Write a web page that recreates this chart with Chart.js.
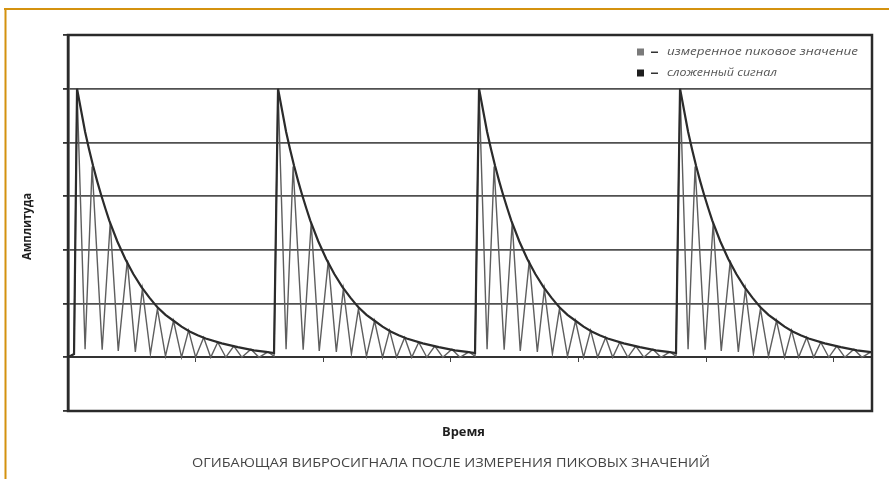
<!DOCTYPE html>
<html>
<head>
<meta charset="utf-8">
<script src="https://cdn.jsdelivr.net/npm/chart.js@4.4.1/dist/chart.umd.min.js"></script>
<style>
    body { margin: 0; background: #fff; }
    #wrap { width: 889px; height: 479px; }
</style>
</head>
<body>
<div id="wrap"><canvas id="grafico" width="889" height="479"></canvas></div>
<script>
// начало каждого цикла (момент пика), усл. ед. времени
const cycleStarts = [9, 209, 409, 609];

// участок до первого удара
const leadTime = [0, 6];
const leadValue = [0, 0.06];

// огибающая (сложенный сигнал) одного цикла, время от пика
const envTime = [0, 4, 8, 12, 16, 20, 24, 28, 32, 40, 48, 56, 64, 72, 80, 88, 96, 104, 112, 120, 128, 144, 160, 176, 188, 196];
const envValue = [5.0, 4.6, 4.2, 3.87, 3.56, 3.28, 3.02, 2.78, 2.55, 2.16, 1.83, 1.55, 1.31, 1.11, 0.93, 0.79, 0.68, 0.57, 0.48, 0.41, 0.35, 0.26, 0.19, 0.13, 0.1, 0.08];

// измеренные пиковые значения одного цикла (пики и провалы)
const peakTime = [0, 8, 15, 25, 33, 41, 50, 58, 65, 73, 80, 88, 96, 104, 111, 118, 126, 133, 140, 148, 156, 164, 173, 181, 190, 196];
const peakValue = [5.0, 0.15, 3.55, 0.14, 2.5, 0.12, 1.8, 0.1, 1.27, 0.06, 0.9, 0.02, 0.68, 0.0, 0.5, 0.0, 0.37, 0.0, 0.28, 0.0, 0.21, 0.0, 0.15, 0.0, 0.1, 0.02];

const legendLabels = ["измеренное пиковое значение", "сложенный сигнал"];
const yTitle = "Амплитуда";
const xTitle = "Время";
const caption = "ОГИБАЮЩАЯ ВИБРОСИГНАЛА ПОСЛЕ ИЗМЕРЕНИЯ ПИКОВЫХ ЗНАЧЕНИЙ";

function buildSeries(times, values) {
    let pts = [];
    for (let i = 0; i < leadTime.length; i++) pts.push({ x: leadTime[i], y: leadValue[i] });
    cycleStarts.forEach(start => {
        for (let i = 0; i < times.length; i++) pts.push({ x: start + times[i], y: values[i] });
    });
    return pts;
}

// текст, подогнанный по ширине
function fitText(ctx, text, x, y, width, font, color) {
    ctx.save();
    ctx.font = font;
    ctx.fillStyle = color;
    ctx.textBaseline = "middle";
    ctx.textAlign = "left";
    let w = ctx.measureText(text).width;
    ctx.translate(x, y);
    ctx.scale(width / w, 1);
    ctx.fillText(text, 0, 0);
    ctx.restore();
}

const decor = {
    id: "decor",
    afterDraw(chart) {
        const ctx = chart.ctx;
        const a = chart.chartArea;

        // рамка графика
        ctx.save();
        ctx.strokeStyle = "#2a2a2a";
        ctx.lineWidth = 2.5;
        ctx.strokeRect(a.left, a.top, a.right - a.left, a.bottom - a.top);

        // оранжевая рамка страницы
        ctx.strokeStyle = "#d4920f";
        ctx.lineWidth = 2;
        ctx.beginPath();
        ctx.moveTo(4, 9);
        ctx.lineTo(889, 9);
        ctx.moveTo(5.5, 8);
        ctx.lineTo(5.5, 479);
        ctx.stroke();
        ctx.restore();

        // подписи осей
        ctx.save();
        ctx.translate(27, 227);
        ctx.rotate(-Math.PI / 2);
        fitText(ctx, yTitle, -33, 0, 67, "bold 12.5px 'Open Sans'", "#1e1e1e");
        ctx.restore();
        fitText(ctx, xTitle, 442, 432, 43, "bold 12.5px 'Open Sans'", "#1e1e1e");
        fitText(ctx, caption, 192, 463, 518, "13px 'Open Sans'", "#444");

        // легенда
        const colors = ["#7a7a7a", "#1e1e1e"];
        const rows = [52, 73];
        const widths = [191, 110];
        for (let i = 0; i < legendLabels.length; i++) {
            ctx.fillStyle = colors[i];
            ctx.fillRect(637, rows[i] - 3.5, 7, 7);
            ctx.fillStyle = "#333";
            ctx.fillRect(651, rows[i] - 0.5, 7, 1.5);
            fitText(ctx, legendLabels[i], 667, rows[i], widths[i], "italic 11px 'Open Sans'", "#555");
        }
    }
};

const ctx = document.getElementById("grafico");

new Chart(ctx, {
    type: "line",
    data: {
        datasets: [{
            label: legendLabels[1],
            data: buildSeries(envTime, envValue),
            borderColor: "#2b2b2b",
            borderWidth: 2.2,
            pointRadius: 0,
            tension: 0
        }, {
            label: legendLabels[0],
            data: buildSeries(peakTime, peakValue),
            borderColor: "#5e5e5e",
            borderWidth: 1.4,
            pointRadius: 0,
            tension: 0
        }]
    },
    options: {
        responsive: false,
        animation: false,
        layout: {
            padding: { left: 0, top: 35, right: 17, bottom: 68 }
        },
        plugins: {
            legend: { display: false },
            tooltip: { enabled: false }
        },
        scales: {
            x: {
                type: "linear",
                axis: "x",
                position: { y: 0 },
                min: 0,
                max: 800,
                ticks: { display: false, stepSize: 127 },
                grid: {
                    display: true,
                    drawOnChartArea: false,
                    drawTicks: true,
                    tickLength: 4,
                    tickColor: "#444"
                },
                border: { display: true, color: "#333", width: 2 }
            },
            y: {
                min: -1,
                max: 6,
                ticks: { display: false, stepSize: 1 },
                grid: {
                    color: "#505050",
                    lineWidth: 1.8,
                    tickLength: 5,
                    tickColor: "#333"
                },
                border: { display: true, color: "#2a2a2a", width: 2.5 },
                afterFit(scale) { scale.width = 68; }
            }
        }
    },
    plugins: [decor]
});
</script>
</body>
</html>
